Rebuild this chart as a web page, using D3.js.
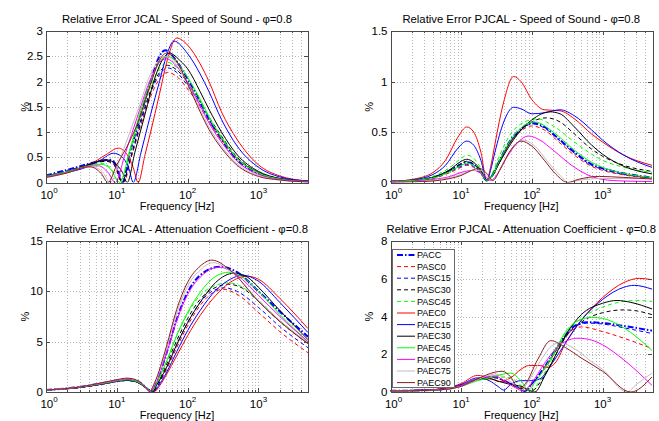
<!DOCTYPE html>
<html>
<head>
<meta charset="utf-8">
<script src="https://cdn.jsdelivr.net/npm/d3@7"></script>
<style>
  body { margin: 0; background: #fff; }
  svg { display: block; }
  text { font-family: "Liberation Sans", Arial, Helvetica, sans-serif; fill: #000; }
</style>
</head>
<body>
<svg id="chart" width="659" height="421"></svg>
<script>
// Series names (legend order) and their line styles
const seriesNames = ["PACC", "PASC0", "PASC15", "PASC30", "PASC45",
  "PAEC0", "PAEC15", "PAEC30", "PAEC45", "PAEC60", "PAEC75", "PAEC90"];
const seriesColors = ["#0000ff", "#ff0000", "#0000ff", "#000000", "#00ff00",
  "#ff0000", "#0000ff", "#000000", "#00ff00", "#ff00ff", "#c4b8c4", "#8b1c1c"];
const seriesDash = ["6,2,1.5,2", "4,3", "4,3", "4,3", "4,3",
  null, null, null, null, null, null, null];
const seriesWidth = [2, 1, 1, 1, 1, 1, 1, 1, 1, 1, 1, 1];

// Axis settings
const xDomain = [1, 5000];
const xMajorTicks = [1, 10, 100, 1000];
const panelTitles = [
  "Relative Error JCAL - Speed of Sound - \u03c6=0.8",
  "Relative Error PJCAL - Speed of Sound - \u03c6=0.8",
  "Relative Error JCAL - Attenuation Coefficient - \u03c6=0.8",
  "Relative Error PJCAL - Attenuation Coefficient - \u03c6=0.8"
];
const yMaxes = [3, 1.5, 15, 8];
const yTicks = [
  [0, 0.5, 1, 1.5, 2, 2.5, 3],
  [0, 0.5, 1, 1.5],
  [0, 5, 10, 15],
  [0, 2, 4, 6, 8]
];

// Relative error of the speed of sound, JCAL model: [frequency Hz, %] per series
const sosJCAL = [
  [[1,.14],[2,.25],[4,.37],[6,.43],[8,.45],[10,.32],[12,0],[15,.55],[20,1.15],[30,2.0],[40,2.5],[48,2.62],[70,2.4],[100,2.05],[150,1.6],[200,1.25],[300,.85],[500,.45],[1000,.18],[2000,.07],[5000,.02]],
  [[1,.13],[2,.23],[4,.36],[7,.44],[9,.38],[12.5,0],[16,.5],[22,1.15],[30,1.7],[40,2.05],[52,2.18],[70,2.1],[100,1.85],[150,1.5],[200,1.2],[300,.85],[500,.47],[1000,.19],[2000,.07],[5000,.02]],
  [[1,.13],[2,.23],[4,.36],[7,.43],[9,.37],[12,0],[16,.52],[22,1.2],[30,1.78],[40,2.13],[52,2.27],[70,2.18],[100,1.92],[150,1.55],[200,1.25],[300,.88],[500,.48],[1000,.2],[2000,.07],[5000,.02]],
  [[1,.13],[2,.22],[4,.35],[7,.42],[9,.36],[12,0],[16,.55],[22,1.25],[30,1.82],[40,2.18],[52,2.32],[70,2.23],[100,1.98],[150,1.6],[200,1.3],[300,.92],[500,.5],[1000,.2],[2000,.07],[5000,.02]],
  [[1,.13],[2,.22],[4,.34],[6,.38],[8,.3],[11,0],[15,.55],[20,1.15],[30,1.9],[40,2.25],[52,2.38],[70,2.28],[100,2.0],[150,1.6],[200,1.28],[300,.88],[500,.47],[1000,.19],[2000,.07],[5000,.02]],
  [[1,.12],[2,.2],[4,.34],[7,.55],[10.5,.68],[14,.55],[17,.3],[20,0],[25,.55],[30,1.0],[40,1.75],[50,2.35],[70,2.86],[100,2.72],[150,2.35],[200,2.0],[300,1.4],[500,.85],[1000,.35],[2000,.13],[5000,.03]],
  [[1,.12],[2,.2],[4,.32],[6,.45],[9,.58],[12,.5],[15,.25],[17,0],[22,.6],[30,1.35],[40,2.0],[50,2.5],[64,2.8],[100,2.55],[150,2.15],[200,1.8],[300,1.25],[500,.72],[1000,.3],[2000,.11],[5000,.03]],
  [[1,.12],[2,.21],[4,.35],[7,.45],[9,.4],[12,.2],[14,0],[18,.6],[25,1.35],[35,2.1],[45,2.45],[55,2.56],[80,2.4],[100,2.25],[150,1.8],[200,1.45],[300,1.0],[500,.55],[1000,.22],[2000,.08],[5000,.02]],
  [[1,.12],[2,.21],[4,.33],[6,.36],[8,.28],[11,0],[15,.6],[20,1.25],[30,2.0],[40,2.38],[52,2.5],[70,2.38],[100,2.08],[150,1.65],[200,1.3],[300,.9],[500,.48],[1000,.19],[2000,.07],[5000,.02]],
  [[1,.11],[2,.2],[4,.32],[5.5,.33],[7.5,.2],[9.5,0],[13,.55],[20,1.35],[30,2.05],[40,2.38],[50,2.45],[70,2.3],[100,1.98],[150,1.52],[200,1.18],[300,.8],[500,.42],[1000,.16],[2000,.06],[5000,.02]],
  [[1,.1],[2,.19],[3.5,.3],[4.5,.31],[6.5,.18],[8,0],[12,.6],[20,1.45],[30,2.15],[40,2.43],[50,2.5],[70,2.33],[100,1.95],[150,1.45],[200,1.1],[300,.72],[500,.37],[1000,.14],[2000,.05],[5000,.01]],
  [[1,.1],[2,.19],[3.5,.3],[4.2,.31],[6,.18],[7.5,0],[10,.35],[15,.8],[20,1.2],[30,1.95],[40,2.42],[50,2.56],[70,2.4],[100,1.95],[150,1.4],[200,1.05],[300,.68],[500,.34],[1000,.12],[2000,.05],[5000,.01]]
];

// Relative error of the speed of sound, PJCAL model
const sosPJCAL = [
  [[1,.01],[2,.02],[4,.05],[7,.12],[10,.18],[12,.2],[15,.18],[19,.1],[23,.02],[27,.06],[35,.22],[50,.42],[70,.53],[100,.59],[150,.55],[250,.42],[400,.3],[700,.18],[1000,.14],[2000,.09],[5000,.05]],
  [[1,.01],[2,.02],[4,.04],[7,.1],[10,.15],[12,.17],[15,.15],[19,.09],[23,.02],[27,.06],[35,.2],[50,.4],[70,.51],[100,.56],[150,.52],[250,.39],[400,.27],[700,.16],[1000,.12],[2000,.075],[5000,.04]],
  [[1,.01],[2,.02],[4,.045],[7,.11],[10,.16],[12,.18],[15,.16],[19,.09],[23,.02],[27,.06],[35,.21],[50,.41],[70,.52],[100,.58],[150,.54],[250,.41],[400,.29],[700,.17],[1000,.13],[2000,.08],[5000,.045]],
  [[1,.01],[2,.02],[4,.05],[7,.12],[10,.19],[12,.21],[15,.18],[19,.11],[23,.02],[27,.07],[35,.22],[50,.4],[70,.52],[100,.6],[160,.64],[250,.6],[400,.48],[700,.33],[1000,.26],[2000,.17],[5000,.11]],
  [[1,.01],[2,.02],[4,.06],[7,.15],[10,.24],[12,.27],[15,.24],[19,.14],[23,.02],[27,.08],[35,.27],[50,.48],[70,.58],[120,.63],[200,.56],[400,.4],[700,.28],[1000,.22],[2000,.15],[5000,.10]],
  [[1,.01],[2,.03],[4,.1],[6,.22],[9,.45],[12,.55],[15,.5],[19,.3],[23,.02],[26,.15],[30,.38],[40,.8],[55,1.05],[70,1.0],[100,.82],[150,.72],[250,.71],[400,.63],[700,.48],[1000,.4],[2000,.27],[5000,.17]],
  [[1,.01],[2,.025],[4,.08],[6,.17],[9,.34],[12,.41],[15,.37],[19,.22],[23,.02],[26,.12],[30,.3],[40,.6],[55,.745],[70,.73],[100,.68],[150,.69],[250,.72],[400,.66],[700,.52],[1000,.42],[2000,.27],[5000,.15]],
  [[1,.01],[2,.02],[4,.05],[7,.13],[10,.21],[12,.23],[15,.2],[19,.12],[23,.02],[27,.06],[35,.2],[50,.38],[70,.52],[100,.62],[180,.7],[250,.68],[400,.55],[700,.37],[1000,.28],[2000,.16],[5000,.085]],
  [[1,.01],[2,.02],[4,.045],[7,.11],[10,.17],[12,.19],[15,.17],[19,.1],[23,.02],[27,.06],[35,.22],[50,.42],[70,.54],[110,.6],[200,.5],[400,.32],[700,.2],[1000,.15],[2000,.09],[5000,.05]],
  [[1,.005],[2,.01],[4,.03],[7,.06],[10,.1],[15,.12],[20,.08],[26,.02],[30,.05],[40,.2],[60,.38],[90,.46],[130,.42],[200,.32],[400,.15],[700,.06],[1000,.03],[2000,.015],[5000,.01]],
  [[1,.003],[2,.008],[4,.02],[7,.05],[10,.08],[15,.12],[19,.12],[23,.07],[28,.02],[35,.12],[50,.32],[75,.42],[110,.36],[170,.2],[250,.07],[330,0],[450,.02],[1000,.04],[2000,.04],[5000,.035]],
  [[1,.002],[2,.006],[4,.015],[7,.04],[10,.07],[14,.12],[18,.14],[23,.09],[28,.02],[35,.12],[50,.32],[70,.41],[100,.36],[150,.22],[220,.08],[320,0],[450,.03],[900,.06],[2000,.05],[5000,.035]]
];

// Relative error of the attenuation coefficient, JCAL model
const attJCAL = [
  [[1,.2],[3,.5],[7,.95],[10,1.15],[14,1.3],[18,1.2],[22,.85],[27,.3],[30,.05],[35,.7],[50,3.8],[70,7.2],[100,9.9],[150,11.6],[290,12.45],[500,11.9],[1000,10.0],[2000,8.0],[5000,5.5]],
  [[1,.2],[3,.45],[7,.85],[10,1.05],[14,1.15],[18,1.05],[22,.75],[28,.25],[33,.05],[38,.6],[50,2.2],[70,4.4],[100,6.6],[150,8.6],[220,9.8],[320,10.2],[500,9.7],[1000,7.9],[2000,6.0],[5000,3.9]],
  [[1,.2],[3,.45],[7,.85],[10,1.05],[14,1.15],[18,1.05],[22,.75],[28,.25],[33,.05],[38,.65],[50,2.4],[70,4.7],[100,6.9],[150,8.9],[220,10.0],[330,10.35],[500,10.0],[1000,8.4],[2000,6.5],[5000,4.4]],
  [[1,.2],[3,.45],[7,.85],[10,1.05],[14,1.15],[18,1.05],[22,.75],[28,.25],[32,.05],[37,.7],[50,2.7],[70,5.1],[100,7.3],[150,9.2],[250,10.4],[380,10.7],[600,10.3],[1000,9.0],[2000,7.0],[5000,4.8]],
  [[1,.2],[3,.45],[7,.85],[10,1.05],[14,1.15],[18,1.05],[22,.75],[28,.25],[31,.05],[36,.75],[50,3.0],[70,5.6],[100,7.8],[150,9.6],[250,10.6],[360,10.85],[600,10.4],[1000,9.1],[2000,7.1],[5000,4.9]],
  [[1,.2],[3,.45],[7,.85],[10,1.05],[14,1.15],[18,1.05],[22,.75],[28,.25],[34,.05],[40,.6],[50,1.7],[70,3.6],[100,5.6],[150,7.6],[250,9.6],[400,10.9],[700,11.5],[1000,11.2],[2000,9.3],[5000,6.3]],
  [[1,.2],[3,.45],[7,.85],[10,1.05],[14,1.15],[18,1.05],[22,.75],[28,.25],[33,.05],[39,.65],[50,1.9],[70,4.0],[100,6.1],[150,8.1],[250,10.1],[400,11.2],[600,11.6],[1000,11.0],[2000,8.9],[5000,5.9]],
  [[1,.2],[3,.48],[7,.9],[10,1.1],[14,1.2],[18,1.1],[22,.8],[28,.25],[32,.05],[37,.75],[50,2.4],[70,4.7],[100,6.9],[150,8.9],[250,10.9],[450,11.8],[700,11.4],[1000,10.4],[2000,8.1],[5000,5.2]],
  [[1,.2],[3,.48],[7,.9],[10,1.1],[14,1.22],[18,1.1],[22,.8],[28,.25],[31,.05],[36,.8],[50,3.0],[70,5.6],[100,7.9],[150,9.9],[250,11.5],[380,11.9],[600,11.4],[1000,10.0],[2000,7.7],[5000,5.0]],
  [[1,.2],[3,.5],[7,.95],[10,1.15],[14,1.3],[18,1.2],[22,.85],[27,.3],[30,.05],[35,.75],[50,3.8],[70,7.1],[100,9.7],[150,11.4],[280,12.4],[500,11.6],[1000,9.6],[2000,7.5],[5000,5.0]],
  [[1,.2],[3,.5],[7,.98],[10,1.2],[14,1.35],[18,1.22],[22,.88],[27,.3],[29,.05],[34,.8],[50,4.2],[70,7.8],[100,10.5],[150,12.1],[230,12.85],[400,12.0],[1000,9.1],[2000,7.1],[5000,4.9]],
  [[1,.2],[3,.5],[7,1.0],[10,1.22],[14,1.38],[18,1.25],[22,.9],[27,.3],[29,.05],[34,.9],[50,4.5],[70,8.2],[100,10.9],[150,12.5],[220,13.1],[400,12.1],[1000,9.0],[2000,7.0],[5000,4.8]]
];

// Relative error of the attenuation coefficient, PJCAL model
const attPJCAL = [
  [[1,.06],[3,.09],[6,.16],[10,.35],[17,.68],[30,.8],[40,.6],[60,.3],[80,.05],[100,.45],[150,1.3],[250,2.6],[400,3.5],[600,3.7],[1000,3.65],[2000,3.5],[5000,3.25]],
  [[1,.06],[3,.09],[6,.16],[10,.33],[17,.65],[30,.78],[40,.6],[60,.3],[80,.05],[100,.4],[150,1.2],[250,2.5],[350,3.2],[500,3.45],[1000,3.2],[2000,2.85],[5000,2.3]],
  [[1,.06],[3,.09],[6,.16],[10,.34],[17,.66],[30,.78],[40,.6],[60,.3],[80,.05],[100,.43],[150,1.25],[250,2.55],[400,3.45],[600,3.65],[1000,3.6],[2000,3.4],[5000,3.1]],
  [[1,.06],[3,.09],[6,.16],[10,.35],[17,.68],[30,.75],[45,.5],[70,.2],[100,.05],[130,.5],[200,1.7],[300,2.9],[500,3.7],[1000,4.2],[2000,4.35],[3000,4.3],[5000,4.1]],
  [[1,.06],[3,.09],[6,.16],[10,.36],[17,.7],[30,.8],[50,.75],[70,.35],[95,.05],[130,.6],[200,1.9],[300,3.1],[500,3.9],[1000,4.5],[2000,4.8],[3000,4.85],[5000,4.8]],
  [[1,.07],[3,.1],[6,.2],[10,.45],[17,.88],[25,.75],[35,.55],[50,.75],[70,1.2],[90,1.4],[130,1.4],[170,1.3],[220,1.6],[300,2.6],[500,3.8],[1000,5.0],[2000,5.8],[3300,6.02],[5000,5.95]],
  [[1,.07],[3,.1],[6,.18],[10,.4],[17,.75],[25,.6],[33,.3],[40,.1],[50,.4],[70,.6],[100,.6],[130,.7],[200,1.6],[300,2.6],[500,3.8],[1000,4.9],[2000,5.55],[2800,5.65],[5000,5.45]],
  [[1,.06],[3,.09],[6,.15],[10,.35],[17,.65],[25,.7],[35,.55],[50,.4],[70,.3],[90,.1],[110,0],[150,.8],[200,1.7],[300,3.0],[500,4.1],[1000,4.7],[1600,4.85],[2500,4.75],[5000,4.4]],
  [[1,.05],[3,.08],[6,.14],[10,.3],[17,.6],[25,.75],[50,1.0],[70,.6],[90,.1],[110,.5],[200,2.0],[300,3.2],[500,3.85],[700,3.95],[1000,3.9],[2000,3.4],[5000,2.2]],
  [[1,.06],[3,.09],[6,.16],[10,.35],[17,.7],[30,.85],[40,.6],[60,.2],[75,.05],[100,.5],[150,1.5],[250,2.5],[450,2.85],[700,2.75],[1000,2.5],[2000,1.7],[5000,.35]],
  [[1,.05],[3,.08],[6,.14],[10,.3],[17,.65],[30,.95],[40,.8],[60,.3],[70,.1],[90,.6],[130,1.6],[200,2.5],[250,2.6],[400,2.3],[700,1.6],[1000,1.2],[2200,0],[3000,.4],[5000,1.0]],
  [[1,.05],[3,.08],[6,.14],[10,.3],[17,.7],[30,1.05],[38,1.1],[50,.8],[65,.2],[80,.4],[120,1.7],[185,2.72],[300,2.35],[500,1.8],[1000,1.1],[2500,0],[5000,.8]]
];

const panelData = [sosJCAL, sosPJCAL, attJCAL, attPJCAL];

// Panel frames (pixel boxes of the four axes)
const frames = [
  { left: 46, top: 31, width: 262, height: 151.5 },
  { left: 390.5, top: 31, width: 261.5, height: 151.5 },
  { left: 46, top: 241, width: 262, height: 151 },
  { left: 390.5, top: 241, width: 261.5, height: 151 }
];

const svg = d3.select("#chart");
const gridColor = "#b8b8b8";
const axisColor = "#4a4a4a";

// minor decade positions for the log axis
const minorTicks = [];
for (let e = 0; e <= 3; e++) {
  for (let m = 2; m <= 9; m++) {
    const v = m * Math.pow(10, e);
    if (v < xDomain[1]) minorTicks.push(v);
  }
}

frames.forEach((fr, p) => {
  const x = d3.scaleLog().domain(xDomain).range([fr.left, fr.left + fr.width]);
  const y = d3.scaleLinear().domain([0, yMaxes[p]]).range([fr.top + fr.height, fr.top]);
  const g = svg.append("g");
  const bottom = fr.top + fr.height, right = fr.left + fr.width;

  // grid
  const grid = g.append("g").attr("stroke", gridColor).attr("stroke-width", 1)
    .attr("stroke-dasharray", "1,2").attr("shape-rendering", "crispEdges");
  grid.selectAll("line.xmin").data(minorTicks.concat(xMajorTicks.slice(1))).join("line")
    .attr("x1", d => Math.round(x(d)) + 0.5).attr("x2", d => Math.round(x(d)) + 0.5)
    .attr("y1", fr.top).attr("y2", bottom);
  grid.selectAll("line.y").data(yTicks[p].slice(1, -1)).join("line")
    .attr("y1", d => Math.round(y(d)) + 0.5).attr("y2", d => Math.round(y(d)) + 0.5)
    .attr("x1", fr.left).attr("x2", right);

  // clip region for curves
  const clipId = "clip" + p;
  svg.append("clipPath").attr("id", clipId).append("rect")
    .attr("x", fr.left).attr("y", fr.top - 1).attr("width", fr.width).attr("height", fr.height + 1);

  const line = d3.line().x(d => x(d[0])).y(d => y(d[1])).curve(d3.curveMonotoneX);
  const curves = g.append("g").attr("clip-path", `url(#${clipId})`).attr("fill", "none");
  panelData[p].forEach((pts, i) => {
    curves.append("path").datum(pts)
      .attr("d", line)
      .attr("stroke", seriesColors[i])
      .attr("stroke-width", seriesWidth[i])
      .attr("stroke-dasharray", seriesDash[i])
      .attr("stroke-linejoin", "round");
  });

  // box and ticks
  const ax = g.append("g").attr("stroke", axisColor).attr("stroke-width", 1).attr("shape-rendering", "crispEdges");
  ax.append("rect").attr("x", Math.round(fr.left) + 0.5).attr("y", Math.round(fr.top) + 0.5)
    .attr("width", Math.round(fr.width)).attr("height", Math.round(fr.height)).attr("fill", "none");
  xMajorTicks.forEach(t => {
    const xx = Math.round(x(t)) + 0.5;
    ax.append("line").attr("x1", xx).attr("x2", xx).attr("y1", bottom).attr("y2", bottom - 4);
    ax.append("line").attr("x1", xx).attr("x2", xx).attr("y1", fr.top).attr("y2", fr.top + 4);
  });
  minorTicks.forEach(t => {
    const xx = Math.round(x(t)) + 0.5;
    ax.append("line").attr("x1", xx).attr("x2", xx).attr("y1", bottom).attr("y2", bottom - 2);
    ax.append("line").attr("x1", xx).attr("x2", xx).attr("y1", fr.top).attr("y2", fr.top + 2);
  });
  yTicks[p].forEach(t => {
    const yy = Math.round(y(t)) + 0.5;
    ax.append("line").attr("x1", fr.left).attr("x2", fr.left + 4).attr("y1", yy).attr("y2", yy);
    ax.append("line").attr("x1", right).attr("x2", right - 4).attr("y1", yy).attr("y2", yy);
  });

  // y tick labels
  g.selectAll("text.yt").data(yTicks[p]).join("text")
    .attr("x", fr.left - 3).attr("y", d => y(d)).attr("dy", "0.36em")
    .attr("text-anchor", "end").attr("font-size", 11.5)
    .text(d => d3.format("~g")(d));

  // x tick labels: 10 with superscript exponent
  xMajorTicks.forEach(t => {
    const tx = g.append("text").attr("x", x(t) + (t === 1 ? 3 : 0)).attr("y", bottom + 16)
      .attr("text-anchor", "middle").attr("font-size", 11.5);
    tx.append("tspan").text("10");
    tx.append("tspan").attr("dy", -6).attr("font-size", 8).text(Math.round(Math.log10(t)));
  });

  // axis titles
  g.append("text").attr("x", fr.left + fr.width / 2).attr("y", bottom + 27)
    .attr("text-anchor", "middle").attr("font-size", 11).text("Frequency [Hz]");
  g.append("text").attr("transform", `translate(${fr.left - 21},${fr.top + fr.height / 2}) rotate(-90)`)
    .attr("text-anchor", "middle").attr("dy", "0.35em").attr("font-size", 11).text("%");
  g.append("text").attr("x", fr.left + fr.width / 2).attr("y", fr.top - 8)
    .attr("text-anchor", "middle").attr("font-size", 11.3).text(panelTitles[p]);

  // legend in the last panel
  if (p === 3) {
    const lg = g.append("g");
    lg.append("rect").attr("x", 392.5).attr("y", 249.5).attr("width", 62).attr("height", 138)
      .attr("fill", "#fff").attr("stroke", "#6a6a6a");
    seriesNames.forEach((name, i) => {
      const ly = 255 + i * 11.6;
      lg.append("line").attr("x1", 397).attr("x2", 415).attr("y1", ly).attr("y2", ly)
        .attr("stroke", seriesColors[i]).attr("stroke-width", seriesWidth[i])
        .attr("stroke-dasharray", seriesDash[i]);
      lg.append("text").attr("x", 417).attr("y", ly).attr("dy", "0.35em")
        .attr("font-size", 9).text(name);
    });
  }
});
</script>
</body>
</html>
